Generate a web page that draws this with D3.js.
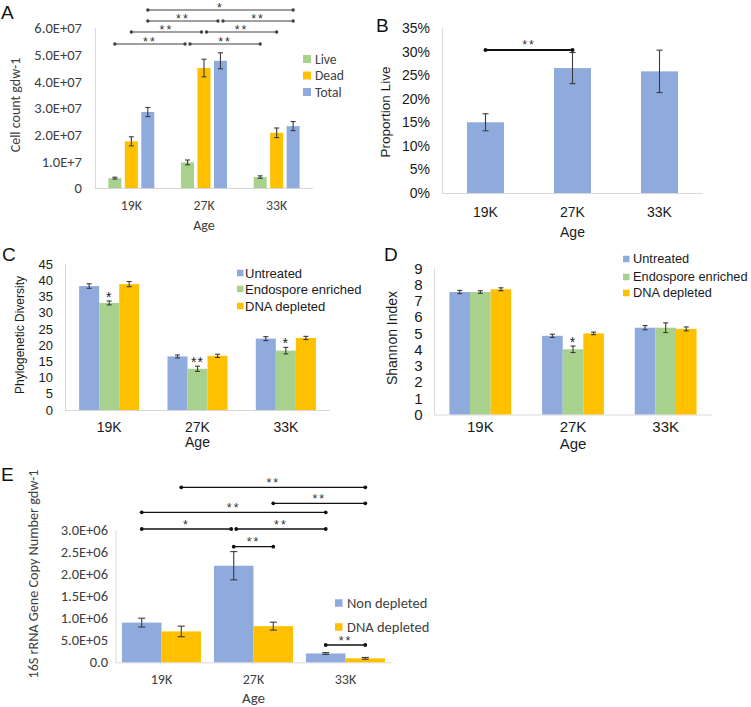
<!DOCTYPE html>
<html><head><meta charset="utf-8">
<script src="https://cdn.jsdelivr.net/npm/d3@7/dist/d3.min.js"></script>
<style>body{margin:0;background:#fff}svg{display:block}</style>
</head><body>
<svg id="fig" width="751" height="707"></svg>
<script>
// ---------------- DATA ----------------
const ages = ["19K", "27K", "33K"];

// Panel A – cell counts
const cellSeries = ["Live", "Dead", "Total"];
const cellLive = [3.7e6, 9.6e6, 4.1e6];
const cellLiveErr = [0.35e6, 0.9e6, 0.45e6];
const cellDead = [1.75e7, 4.5e7, 2.07e7];
const cellDeadErr = [0.17e7, 0.33e7, 0.18e7];
const cellTotal = [2.85e7, 4.77e7, 2.32e7];
const cellTotalErr = [0.17e7, 0.3e7, 0.17e7];
const cellTickValues = [0, 1e7, 2e7, 3e7, 4e7, 5e7, 6e7];
const cellTickLabels = ["0", "1.0E+7", "2.0E+07", "3.0E+07", "4.0E+07", "5.0E+07", "6.0E+07"];
const cellBrackets = [
  ["19K", "Total", "33K", "Total", 0, "*"],
  ["19K", "Total", "27K", "Total", 1, "**"],
  ["27K", "Total", "33K", "Total", 1, "**"],
  ["19K", "Dead", "27K", "Dead", 2, "**"],
  ["27K", "Dead", "33K", "Dead", 2, "**"],
  ["19K", "Live", "27K", "Live", 3, "**"],
  ["27K", "Live", "33K", "Live", 3, "**"]
];

// Panel B – proportion live
const propSeries = ["Proportion Live"];
const propLive = [0.150, 0.265, 0.258];
const propLiveErr = [0.018, 0.033, 0.045];
const propTickValues = [0, 0.05, 0.10, 0.15, 0.20, 0.25, 0.30, 0.35];
const propTickLabels = ["0%", "5%", "10%", "15%", "20%", "25%", "30%", "35%"];
const propBrackets = [["19K", "Proportion Live", "27K", "Proportion Live", 0, "**"]];

// Panel C – phylogenetic diversity
const treatSeries = ["Untreated", "Endospore enriched", "DNA depleted"];
const pdUntreated = [38.2, 16.5, 22.0];
const pdUntreatedErr = [0.7, 0.45, 0.6];
const pdEndospore = [33.0, 12.7, 18.3];
const pdEndosporeErr = [0.6, 0.8, 1.0];
const pdDepleted = [38.8, 16.7, 22.2];
const pdDepletedErr = [0.8, 0.5, 0.5];
const pdTickValues = [0, 5, 10, 15, 20, 25, 30, 35, 40, 45];
const pdStars = [["19K", "Endospore enriched", "*"], ["27K", "Endospore enriched", "**"], ["33K", "Endospore enriched", "*"]];

// Panel D – Shannon index
const shUntreated = [7.55, 4.85, 5.35];
const shUntreatedErr = [0.1, 0.1, 0.13];
const shEndospore = [7.55, 4.02, 5.35];
const shEndosporeErr = [0.08, 0.2, 0.3];
const shDepleted = [7.72, 5.0, 5.28];
const shDepletedErr = [0.09, 0.08, 0.12];
const shTickValues = [0, 1, 2, 3, 4, 5, 6, 7, 8, 9];
const shStars = [["27K", "Endospore enriched", "*"]];

// Panel E – 16S copy number
const copySeries = ["Non depleted", "DNA depleted"];
const copyNon = [0.9e6, 2.19e6, 0.2e6];
const copyNonErr = [0.1e6, 0.32e6, 0.02e6];
const copyDep = [0.7e6, 0.82e6, 0.09e6];
const copyDepErr = [0.12e6, 0.09e6, 0.02e6];
const copyTickValues = [0, 0.5e6, 1e6, 1.5e6, 2e6, 2.5e6, 3e6];
const copyTickLabels = ["0.0", "5.0E+05", "1.0E+06", "1.5E+06", "2.0E+06", "2.5E+06", "3.0E+06"];
const copyBrackets = [
  ["19K", "DNA depleted", "33K", "DNA depleted", 0, "**"],
  ["27K", "DNA depleted", "33K", "DNA depleted", 1, "**"],
  ["19K", "Non depleted", "33K", "Non depleted", 2, "**"],
  ["19K", "Non depleted", "27K", "Non depleted", 3, "*"],
  ["27K", "Non depleted", "33K", "Non depleted", 3, "**"],
  ["27K", "Non depleted", "27K", "DNA depleted", 4, "**"],
  ["33K", "Non depleted", "33K", "DNA depleted", 5, "**"]
];

// ---------------- DRAWING ----------------
const BLUE = "#8FAADC", GREEN = "#A9D18E", GOLD = "#FFC000";
const CAL = "Carlito, Calibri, Lato, sans-serif";
const ARI = "'Liberation Sans', Arial, sans-serif";
const svg = d3.select("#fig");

function panel(o) {
  const g = svg.append("g");
  const x0 = d3.scaleBand().domain(ages).range([o.left, o.right]);
  const y = d3.scaleLinear().domain([0, o.max]).range([o.base, o.top]);
  const gw = x0.bandwidth() * o.groupFrac;
  const pad = o.pad || 0;
  const x1 = d3.scaleBand().domain(o.series).range([-gw / 2, gw / 2]).paddingInner(pad).paddingOuter(pad / 2);
  const cx = (a, s) => x0(a) + x0.bandwidth() / 2 + x1(s) + x1.bandwidth() / 2;

  // axis lines
  g.append("line").attr("x1", o.left).attr("x2", o.right).attr("y1", o.base + 0.5).attr("y2", o.base + 0.5)
    .attr("stroke", "#D9D9D9").attr("stroke-width", 1);
  g.append("line").attr("x1", o.left + 0.5).attr("x2", o.left + 0.5).attr("y1", o.top).attr("y2", o.base)
    .attr("stroke", "#D9D9D9").attr("stroke-width", 1);

  // y tick labels
  const ya = d3.axisLeft(y).tickValues(o.tickValues).tickSize(0).tickPadding(o.tickPad)
    .tickFormat((d, i) => o.tickLabels ? o.tickLabels[i] : d);
  const yg = g.append("g").attr("transform", `translate(${o.left},0)`).call(ya);
  yg.select(".domain").remove();
  yg.selectAll("text").attr("font-family", o.font).attr("font-size", o.tickFs).attr("fill", o.textColor);

  // x tick labels
  const xa = d3.axisBottom(x0).tickSize(0).tickPadding(o.xPad);
  const xg = g.append("g").attr("transform", `translate(0,${o.base})`).call(xa);
  xg.select(".domain").remove();
  xg.selectAll("text").attr("font-family", o.font).attr("font-size", o.xFs).attr("fill", o.textColor);

  // axis titles
  g.append("text").attr("x", (o.left + o.right) / 2).attr("y", o.ageY).attr("text-anchor", "middle")
    .attr("font-family", o.font).attr("font-size", o.ageFs).attr("fill", o.textColor).text("Age");
  g.append("text").attr("transform", `translate(${o.ylabX},${o.ylabY}) rotate(-90)`).attr("text-anchor", "middle")
    .attr("font-family", o.font).attr("font-size", o.ylabFs).attr("fill", o.textColor).text(o.ylab);

  // panel letter
  g.append("text").attr("x", o.letter[1]).attr("y", o.letter[2]).attr("font-family", ARI)
    .attr("font-size", 19).attr("fill", "#111").text(o.letter[0]);

  // bars
  o.series.forEach((s, si) => {
    const vals = o.values[si], errs = o.errors[si];
    ages.forEach((a, ai) => {
      const xl = x0(a) + x0.bandwidth() / 2 + x1(s);
      g.append("rect").attr("x", xl).attr("width", x1.bandwidth())
        .attr("y", y(vals[ai])).attr("height", o.base - y(vals[ai])).attr("fill", o.colors[si]);
      const c = xl + x1.bandwidth() / 2;
      const yt = y(vals[ai] + errs[ai]), yb = y(vals[ai] - errs[ai]);
      const eg = g.append("g").attr("stroke", "#3a3a3a").attr("stroke-width", 1.1);
      eg.append("line").attr("x1", c).attr("x2", c).attr("y1", yt).attr("y2", yb);
      eg.append("line").attr("x1", c - o.cap).attr("x2", c + o.cap).attr("y1", yt).attr("y2", yt);
      eg.append("line").attr("x1", c - o.cap).attr("x2", c + o.cap).attr("y1", yb).attr("y2", yb);
    });
  });

  // stars above bars
  (o.stars || []).forEach(([a, s, lab]) => {
    const si = o.series.indexOf(s), ai = ages.indexOf(a);
    const yt = y(o.values[si][ai] + o.errors[si][ai]);
    g.append("text").attr("x", cx(a, s)).attr("y", yt + 1).attr("text-anchor", "middle")
      .attr("font-family", ARI).attr("font-size", 14).attr("letter-spacing", 1).attr("fill", "#222").text(lab);
  });

  // brackets
  (o.brackets || []).forEach((b) => {
    const [a1, s1, a2, s2, lev, lab] = b;
    let xa1 = cx(a1, s1), xa2 = cx(a2, s2);
    const same = o.brackets.filter(q => q[4] === lev && q !== b);
    if (same.some(q => q[2] === a1 && q[3] === s1)) xa1 += 2.5;
    if (same.some(q => q[0] === a2 && q[1] === s2)) xa2 -= 2.5;
    const yy = o.bracketY[lev];
    g.append("line").attr("x1", xa1).attr("x2", xa2).attr("y1", yy).attr("y2", yy)
      .attr("stroke", o.bracketColor).attr("stroke-width", o.bracketW);
    [xa1, xa2].forEach(xx => g.append("circle").attr("cx", xx).attr("cy", yy).attr("r", o.dotR).attr("fill", o.bracketColor));
    g.append("text").attr("x", (xa1 + xa2) / 2).attr("y", yy - o.starRise).attr("text-anchor", "middle")
      .attr("font-family", ARI).attr("font-size", 12.5).attr("letter-spacing", 2).attr("fill", "#333").text(lab);
  });

  // legend
  if (o.legend) {
    o.series.forEach((s, si) => {
      const ly = o.legend.y[si];
      g.append("rect").attr("x", o.legend.x).attr("y", ly - o.legend.sq / 2).attr("width", o.legend.sq)
        .attr("height", o.legend.sq).attr("fill", o.colors[si]);
      g.append("text").attr("x", o.legend.tx).attr("y", ly).attr("dy", "0.35em")
        .attr("font-family", o.font).attr("font-size", o.legend.fs).attr("fill", o.textColor).text(s);
    });
  }
}

// A
panel({
  letter: ["A", 1, 19],
  left: 95, right: 313, top: 28, base: 188, max: 6e7,
  series: cellSeries, values: [cellLive, cellDead, cellTotal], errors: [cellLiveErr, cellDeadErr, cellTotalErr],
  colors: [GREEN, GOLD, BLUE], groupFrac: 0.68, pad: 0.21, cap: 2.5,
  tickValues: cellTickValues, tickLabels: cellTickLabels, tickPad: 13, tickFs: 14.6,
  font: CAL, textColor: "#404040", xPad: 12, xFs: 13.8, ageY: 230, ageFs: 14,
  ylab: "Cell count gdw-1", ylabX: 20, ylabY: 105, ylabFs: 14,
  brackets: cellBrackets, bracketY: [10, 21, 32, 44], bracketColor: "#404040", bracketW: 1, dotR: 1.7, starRise: -1.5,
  legend: { x: 303, tx: 315, sq: 8, fs: 13.6, y: [59, 75.5, 92] }
});

// B
panel({
  letter: ["B", 376, 32],
  left: 442, right: 703, top: 28, base: 193, max: 0.35,
  series: propSeries, values: [propLive], errors: [propLiveErr],
  colors: [BLUE], groupFrac: 0.425, pad: 0, cap: 3,
  tickValues: propTickValues, tickLabels: propTickLabels, tickPad: 12, tickFs: 14,
  font: ARI, textColor: "#1a1a1a", xPad: 14, xFs: 14, ageY: 237, ageFs: 14,
  ylab: "Proportion Live", ylabX: 390, ylabY: 112, ylabFs: 13.5,
  brackets: propBrackets, bracketY: [50], bracketColor: "#111", bracketW: 2, dotR: 2, starRise: 1.5
});

// C
panel({
  letter: ["C", 2, 261],
  left: 65, right: 330, top: 264, base: 410, max: 45,
  series: treatSeries, values: [pdUntreated, pdEndospore, pdDepleted], errors: [pdUntreatedErr, pdEndosporeErr, pdDepletedErr],
  colors: [BLUE, GREEN, GOLD], groupFrac: 0.68, pad: 0, cap: 2.5,
  tickValues: pdTickValues, tickPad: 12, tickFs: 13,
  font: ARI, textColor: "#1a1a1a", xPad: 12, xFs: 14, ageY: 447, ageFs: 14,
  ylab: "Phylogenetic Diversity", ylabX: 24, ylabY: 335, ylabFs: 12,
  stars: pdStars,
  legend: { x: 237, tx: 245, sq: 6.5, fs: 13, y: [273, 289, 306] }
});

// D
panel({
  letter: ["D", 384, 261],
  left: 434, right: 712, top: 268.5, base: 414.5, max: 9,
  series: treatSeries, values: [shUntreated, shEndospore, shDepleted], errors: [shUntreatedErr, shEndosporeErr, shDepletedErr],
  colors: [BLUE, GREEN, GOLD], groupFrac: 0.667, pad: 0, cap: 2.5,
  tickValues: shTickValues, tickPad: 11.5, tickFs: 15,
  font: ARI, textColor: "#1a1a1a", xPad: 7, xFs: 15, ageY: 449, ageFs: 15,
  ylab: "Shannon Index", ylabX: 397, ylabY: 338, ylabFs: 14,
  stars: shStars,
  legend: { x: 623, tx: 633, sq: 6.5, fs: 12.8, y: [259, 277, 293] }
});

// E
panel({
  letter: ["E", 1, 481],
  left: 115.5, right: 391.5, top: 530, base: 662.3, max: 3e6,
  series: copySeries, values: [copyNon, copyDep], errors: [copyNonErr, copyDepErr],
  colors: [BLUE, GOLD], groupFrac: 0.86, pad: 0, cap: 3.5,
  tickValues: copyTickValues, tickLabels: copyTickLabels, tickPad: 7.5, tickFs: 14.5,
  font: CAL, textColor: "#404040", xPad: 12, xFs: 14, ageY: 703, ageFs: 15,
  ylab: "16S rRNA Gene  Copy Number gdw-1", ylabX: 38, ylabY: 574, ylabFs: 14.2,
  brackets: copyBrackets, bracketY: [487.3, 503.3, 512.3, 529, 546.7, 645], bracketColor: "#111", bracketW: 1.3, dotR: 1.9, starRise: 0.5,
  legend: { x: 335, tx: 347, sq: 7.5, fs: 14.5, y: [603, 627] }
});
</script>
</body></html>
